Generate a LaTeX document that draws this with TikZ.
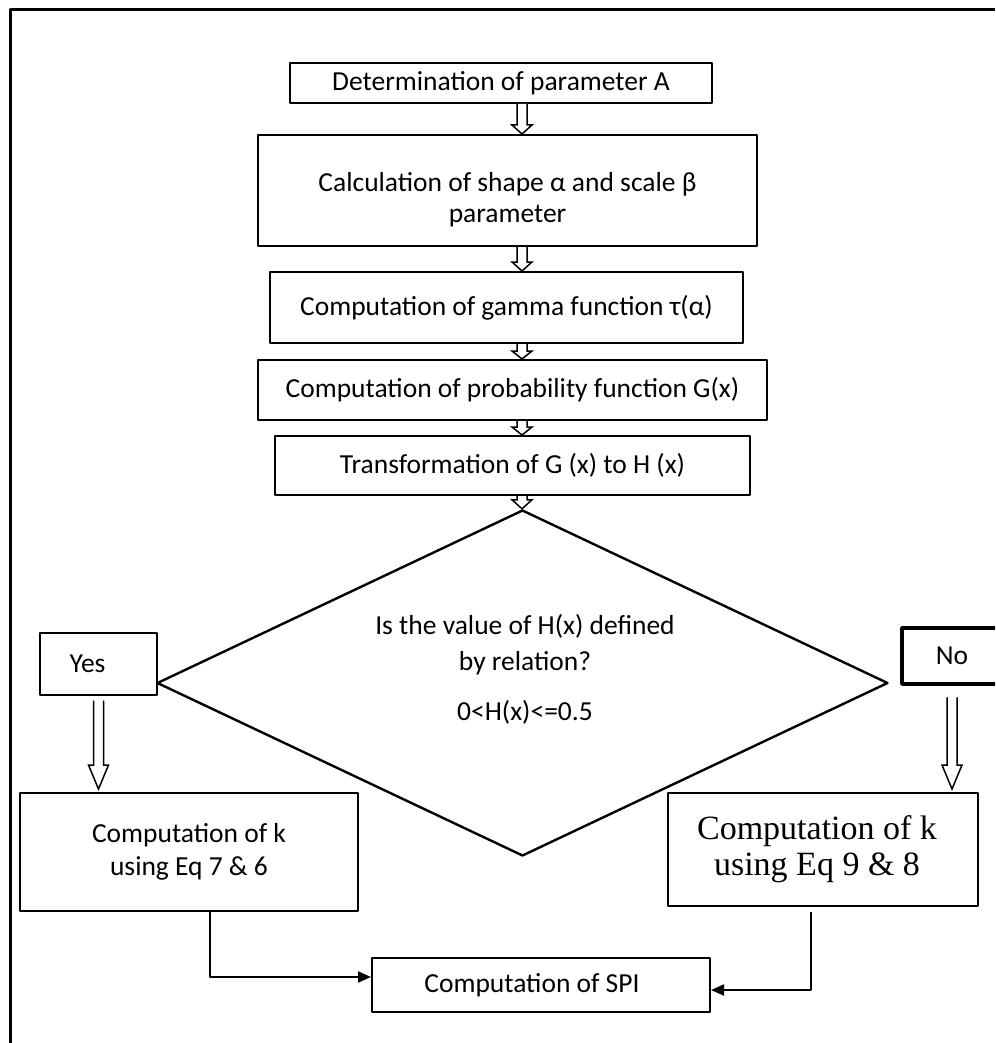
\documentclass[tikz,border=0pt]{standalone}
\usepackage{fontspec}
\setmainfont{Carlito}
\newfontfamily\timesfont{Liberation Serif}
\usetikzlibrary{calc, arrows.meta, shapes.geometric, positioning}
\definecolor{ink}{HTML}{000000}
\tikzset{el/.style={line cap=round, line join=round},
  pbox/.style={draw=ink, line width=2pt, align=center, inner sep=0pt, font=\fontsize{27.5}{33}\selectfont},
  hol/.style={draw=ink, line width=1.5pt, fill=white, line join=miter},
  lnk/.style={draw=ink, line width=2pt, line cap=butt, -{Triangle[length=13pt,width=11pt]}}}
% hollow down arrow: from, to, head length
\newcommand\hollow[3]{%
  \draw[hol] let \p1=#1, \p2=#2 in (\x1-5,\y1) -- (\x1-5,\y2+#3) -- (\x1-10,\y2+#3) -- (\x1,\y2)
     -- (\x1+10,\y2+#3) -- (\x1+5,\y2+#3) -- (\x1+5,\y1);}

\begin{document}
\begin{tikzpicture}[el, x=1pt, y=-1pt]
  \useasboundingbox (0,0) rectangle (995,1043);
  \clip (0,0) rectangle (995,1043);
  % frame runs off the page at right and bottom
  \draw[ink, line width=3pt, line cap=butt] (10,1043) -- (10,10) -- (995,10);
  \coordinate (spine) at (522,0);

  \node[pbox, minimum width=422pt, minimum height=40pt] (detA) at (501,83) {Determination of parameter A};
  \node[pbox, minimum width=499pt, minimum height=111pt] (shape) at (507.5,190.5) {};
  \node[align=center, font=\fontsize{27.5}{31}\selectfont] (shapetxt) at ([yshift=-9pt]shape.center)
     {Calculation of shape α and scale β\\ parameter};
  \node[pbox, minimum width=473pt, minimum height=71pt] (gam) at (506.5,307.5) {Computation of gamma function τ(α)};
  \node[pbox, minimum width=509pt, minimum height=60pt] (prob) at (512.5,390) {Computation of probability function G(x)};
  \node[pbox, minimum width=475pt, minimum height=59pt] (gtoh) at (512.5,465.5) {Transformation of G (x) to H (x)};

  \node[draw=ink, line width=2.4pt, diamond, minimum width=731pt, minimum height=346pt, inner sep=0pt] (rel) at (522.5,683) {};
  \node[align=center, font=\fontsize{27.5}{36}\selectfont] (reltxt) at (525,669)
     {Is the value of H(x) defined\\ by relation?\\[14pt] 0<H(x)<=0.5};

  \node[pbox, minimum width=117pt, minimum height=62pt] (yes) at (98.5,664) {Yes\hspace*{22pt}};
  \node[pbox, line width=3.5pt, minimum width=100pt, minimum height=56pt] (no) at (952,656) {No};

  \node[pbox, minimum width=338pt, minimum height=118pt] (kyes) at (189,852) {Computation of k\\ using Eq 7 \& 6};
  \node[pbox, minimum width=310pt, minimum height=113pt, font=\timesfont\fontsize{34}{36}\selectfont] (kno) at (823,849.5)
     {Computation of k\hspace*{12pt}\\ using Eq 9 \& 8\hspace*{12pt}};
  \node[pbox, minimum width=338pt, minimum height=54pt] (spi) at (541,985) {Computation of SPI\hspace*{18pt}};

  \hollow{(detA.south -| spine)}{(shape.north -| spine)}{9}
  \hollow{(shape.south -| spine)}{(gam.north -| spine)}{9}
  \hollow{(gam.south -| spine)}{(prob.north -| spine)}{8}
  \hollow{(prob.south -| spine)}{(gtoh.north -| spine)}{8}
  \hollow{(gtoh.south -| spine)}{(rel.north)}{9}
  \hollow{([yshift=-5pt]yes.south)}{([yshift=3pt]kyes.north -| yes.south)}{24}
  \hollow{([yshift=-12pt]no.south)}{([yshift=3pt]kno.north -| no.south)}{24}

  \draw[lnk] ([xshift=21pt]kyes.south) |- ([yshift=8pt]spi.west);
  \draw[lnk] ([xshift=-12pt,yshift=-5pt]kno.south) |- ([yshift=-5pt]spi.east);
\end{tikzpicture}
\end{document}
